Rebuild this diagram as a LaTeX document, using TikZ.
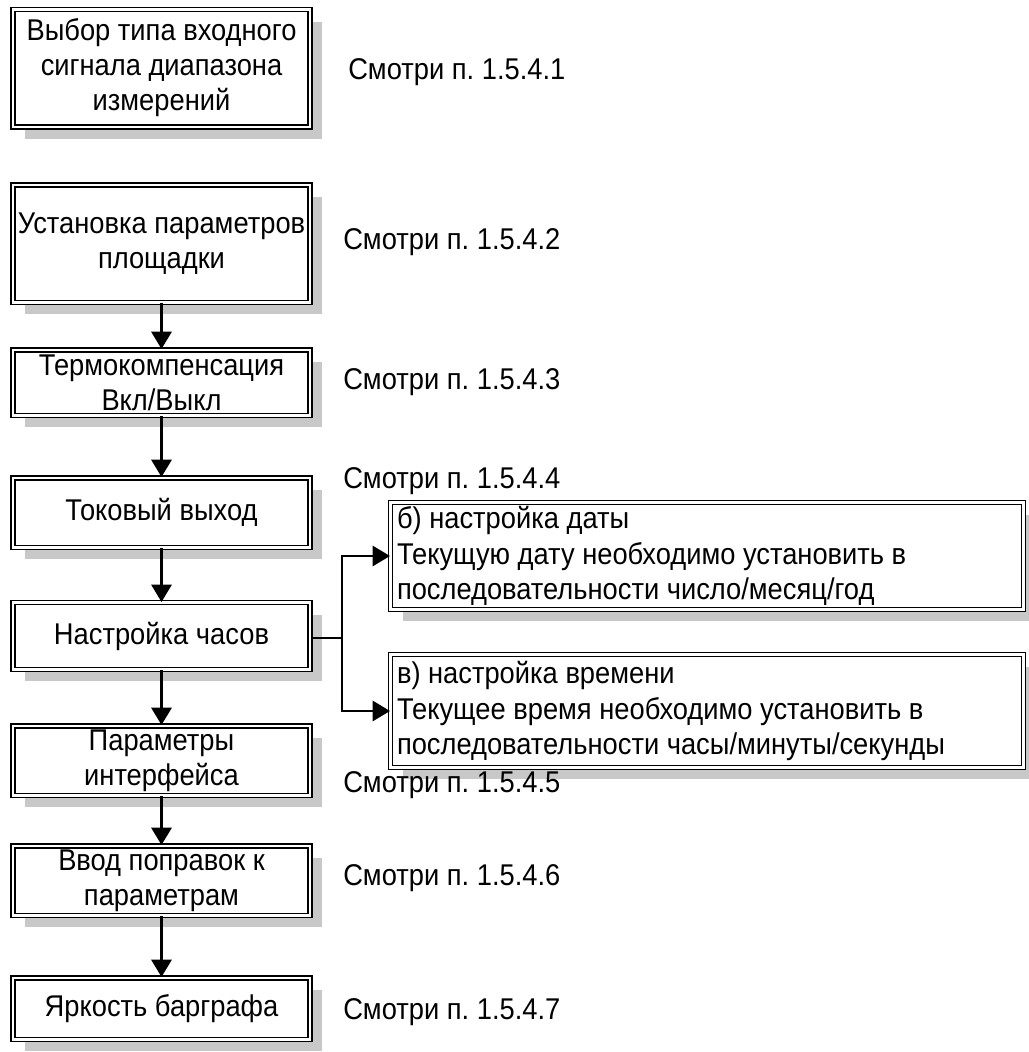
\documentclass[tikz,border=0pt]{standalone}
\usepackage{fontspec}
\setmainfont[FakeStretch=0.91]{Liberation Sans}
\usetikzlibrary{arrows.meta,shadows}
\definecolor{shadowgray}{RGB}{200,200,200}
\frenchspacing
\begin{document}
\begin{tikzpicture}[x=0.75pt,y=-0.75pt,
  font=\fontsize{22.5}{26.5}\selectfont,
  box/.style={draw=black, double=white, line width=1.1pt, double distance=1.9pt,
    fill=white, align=center, inner sep=2pt, minimum width=223pt,
    drop shadow={shadow xshift=9pt, shadow yshift=-9pt, fill=shadowgray, opacity=1}},
  sidebox/.style={box, align=flush left, minimum width=474.4pt, text width=465pt, inner xsep=4.5pt},
  arr/.style={line width=2.2pt, -{Triangle[width=15pt,length=13pt]}},
  link/.style={line width=2.2pt},
  lab/.style={anchor=west, inner sep=0pt}]
\useasboundingbox (0,0) rectangle (1028,1052);

\node[box, minimum height=88.1pt, text depth=6pt] (b1) at (161.5,68.5) {Выбор типа входного\\сигнала диапазона\\измерений};
\node[box, minimum height=88.1pt] (b2) at (161.5,243.5) {Установка параметров\\площадки};
\node[box, minimum height=49.1pt] (b3) at (161.5,382.5) {Термокомпенсация\\Вкл/Выкл};
\node[box, minimum height=52.1pt] (b4) at (161.5,512.5) {Токовый выход};
\node[box, minimum height=49.9pt] (b5) at (161.5,636) {Настройка часов};
\node[box, minimum height=52.1pt] (b6) at (161.5,760.5) {Параметры\\интерфейса};
\node[box, minimum height=52.1pt] (b7) at (161.5,880.5) {Ввод поправок к\\параметрам};
\node[box, minimum height=46.1pt] (b8) at (161.5,1008.5) {Яркость барграфа};

\node[sidebox, minimum height=79.9pt] (bb) at (707,556) {б) настройка даты\\Текущую дату необходимо установить в\\последовательности число/месяц/год};
\node[sidebox, minimum height=84.4pt] (bc) at (707,711) {в) настройка времени\\Текущее время необходимо установить в\\последовательности часы/минуты/секунды};

\node[lab] (l1) at (348,72) {Смотри п. 1.5.4.1};
\node[lab] (l2) at (343,242) {Смотри п. 1.5.4.2};
\node[lab] (l3) at (343,382) {Смотри п. 1.5.4.3};
\node[lab] (l4) at (343,481) {Смотри п. 1.5.4.4};
\node[lab] (l5) at (343,785) {Смотри п. 1.5.4.5};
\node[lab] (l6) at (343,878) {Смотри п. 1.5.4.6};
\node[lab] (l7) at (343,1012) {Смотри п. 1.5.4.7};

\draw[arr] (b2.south) -- (b3.north);
\draw[arr] (b3.south) -- (b4.north);
\draw[arr] (b4.south) -- (b5.north);
\draw[arr] (b5.south) -- (b6.north);
\draw[arr] (b6.south) -- (b7.north);
\draw[arr] (b7.south) -- (b8.north);

\coordinate (j) at (342,638);
\draw[link] (b5.east |- j) -- (j);
\draw[arr] (j) |- (bb.west);
\draw[arr] (j) |- (bc.west);
\end{tikzpicture}
\end{document}
